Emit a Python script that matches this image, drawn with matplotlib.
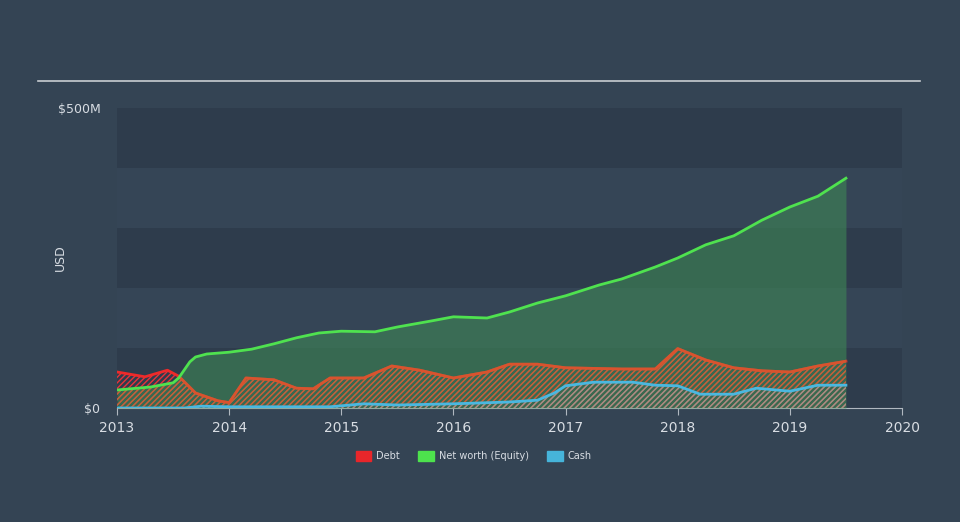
import matplotlib.pyplot as plt
from matplotlib.patches import Patch
from matplotlib.lines import Line2D
import numpy as np

# values, in $M
debt_t = [2013.0, 2013.25, 2013.45, 2013.55, 2013.7, 2013.9, 2014.0, 2014.15, 2014.4,
          2014.6, 2014.75, 2014.9, 2015.2, 2015.45, 2015.7, 2016.0, 2016.3, 2016.5,
          2016.75, 2017.0, 2017.5, 2017.8, 2018.0, 2018.25, 2018.5, 2018.75, 2019.0,
          2019.25, 2019.5]
debt = [60, 52, 63, 53, 25, 12, 9, 50, 47, 33, 32, 50, 50, 70, 63, 50, 60, 73,
        73, 67, 65, 65, 99, 80, 67, 62, 60, 70, 78]

eq_t = [2013.0, 2013.3, 2013.5, 2013.55, 2013.65, 2013.7, 2013.8, 2014.0, 2014.2,
        2014.4, 2014.6, 2014.8, 2015.0, 2015.3, 2015.5, 2015.8, 2016.0, 2016.3,
        2016.5, 2016.75, 2017.0, 2017.3, 2017.5, 2017.8, 2018.0, 2018.25, 2018.5,
        2018.75, 2019.0, 2019.25, 2019.5]
equity = [30, 35, 42, 50, 77, 85, 90, 93, 98, 107, 117, 125, 128, 127, 135, 145,
          152, 150, 160, 175, 187, 205, 215, 235, 250, 272, 287, 313, 335, 353, 383]

cash_t = [2013.0, 2013.6, 2013.75, 2014.0, 2014.9, 2015.2, 2015.5, 2016.0, 2016.5,
          2016.75, 2016.9, 2017.0, 2017.25, 2017.6, 2017.8, 2018.0, 2018.2, 2018.5,
          2018.7, 2019.0, 2019.25, 2019.5]
cash = [0, 0, 3, 2, 2, 7, 5, 7, 10, 13, 25, 37, 43, 43, 38, 37, 23, 23, 33, 28,
        38, 38]

years = list(range(2013, 2021))

bg = "#344454"
text_c = "#d8dde3"

fig = plt.figure(figsize=(9.6, 5.22), dpi=100, facecolor=bg)
ax = fig.add_axes([117/960, 114/522, 785/960, 300/522])
ax.set_facecolor("#354556")

for lo in (0, 200, 400):
    ax.axhspan(lo, lo + 100, color="#2e3c4c", zorder=0, lw=0)

# debt first, so the equity fill tints it
ax.fill_between(debt_t, debt, 0, facecolor="none", edgecolor="#e8333a",
                hatch="//////", linewidth=0, zorder=1)
ax.plot(debt_t, debt, color="#ee2a2a", lw=2, zorder=2)

eq_fill = ax.fill_between(eq_t, equity, 0, color="#3f8a55", alpha=0.58, lw=0, zorder=3)
ax.plot(eq_t, equity, color="#4fe24f", lw=2, zorder=4)

# where debt sits inside the equity area it shows orange
inner, = ax.plot(debt_t, debt, color="#d9532e", lw=2, zorder=3.5)
inner.set_clip_path(eq_fill.get_paths()[0], ax.transData)
inner_h = ax.fill_between(debt_t, debt, 0, facecolor="none", edgecolor="#c8603a",
                          hatch="//////", linewidth=0, zorder=3.4)
inner_h.set_clip_path(eq_fill.get_paths()[0], ax.transData)

ax.fill_between(cash_t, cash, 0, facecolor="none", edgecolor="#8fb0c0",
                hatch="//////", linewidth=0, alpha=0.6, zorder=5)
ax.plot(cash_t, cash, color="#4ab8e0", lw=2, zorder=6)

ax.set_xlim(2013, 2020)
ax.set_ylim(0, 500)
ax.set_xticks(years)
ax.set_xticklabels([str(y) for y in years], color=text_c, fontsize=10)
ax.set_yticks([0, 500])
ax.set_yticklabels(["$0", "$500M"], color=text_c, fontsize=9)
ax.tick_params(axis="y", length=0, pad=12)
ax.tick_params(axis="x", length=5, color="#b0b8c0", pad=4)
for s in ("top", "right", "left"):
    ax.spines[s].set_visible(False)
ax.spines["bottom"].set_color("#b0b8c0")
ax.set_ylabel("USD", color=text_c, fontsize=9)
ax.yaxis.set_label_coords(-0.064, 0.5)

fig.add_artist(Line2D([38/960, 920/960], [1 - 81/522, 1 - 81/522],
                      color="#c8cdd2", lw=1.2))

handles = [Patch(color="#e8262a", label="Debt"),
           Patch(color="#4de24d", label="Net worth (Equity)"),
           Patch(color="#46b4da", label="Cash")]
leg = fig.legend(handles=handles, loc="center", bbox_to_anchor=(0.4935, 1 - 456/522),
                 ncol=3, frameon=False, fontsize=7, handlelength=1.6,
                 handleheight=1.15, columnspacing=1.9, handletextpad=0.5)
for t in leg.get_texts():
    t.set_color(text_c)

fig.savefig("out.png", dpi=100, facecolor=bg)
